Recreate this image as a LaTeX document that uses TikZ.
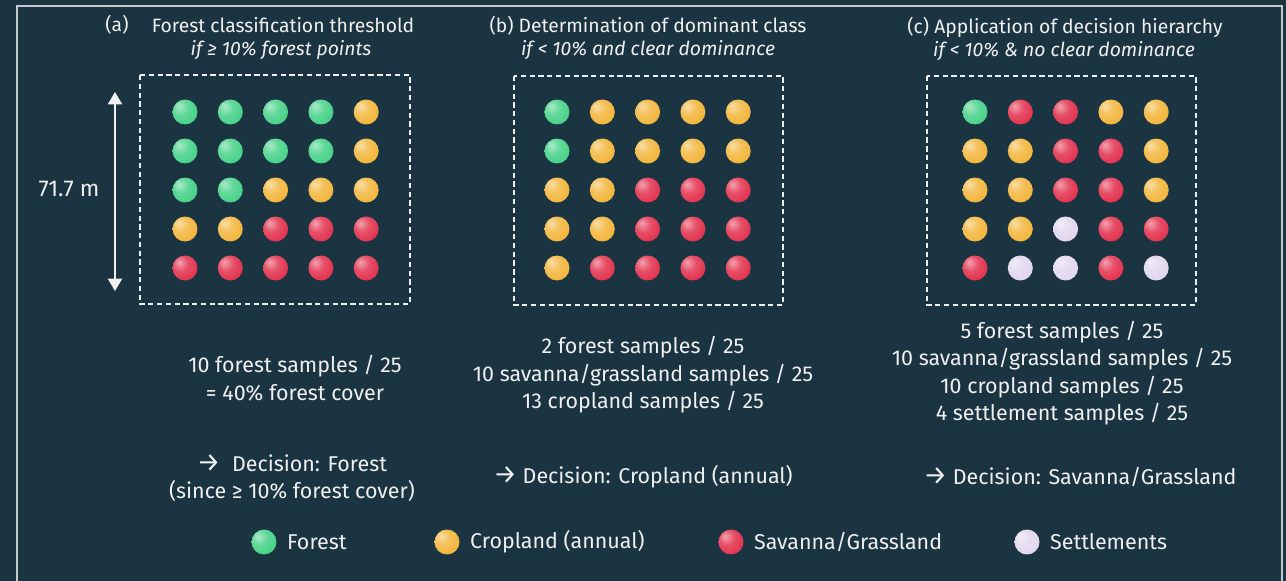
\documentclass[tikz,border=0pt]{standalone}
\usepackage{fontspec}
\setmainfont{Fira Sans}
\usetikzlibrary{arrows.meta,positioning,calc}
\definecolor{bgnavy}{HTML}{1B3442}
\definecolor{framegray}{HTML}{C4C8CC}
\definecolor{txtwhite}{HTML}{F0F0F0}
\definecolor{dotF}{HTML}{45D187}
\definecolor{dotC}{HTML}{F2B53A}
\definecolor{dotS}{HTML}{E2304C}
\definecolor{dotT}{HTML}{E2D6EE}
\colorlet{dotcol}{white}
\pgfdeclareradialshading[dotcol]{sphere}{\pgfqpoint{-12bp}{12bp}}{%
  color(0bp)=(dotcol!45!white); color(16bp)=(dotcol!85!white);
  color(34bp)=(dotcol); color(52bp)=(dotcol!85!black); color(70bp)=(dotcol!70!black)}
\newcommand{\dotgrid}[3]{%
  \foreach \c [count=\k from 0] in {#3} {
    \pgfmathtruncatemacro\col{mod(\k,5)}
    \pgfmathtruncatemacro\row{div(\k,5)}
    \node[dot=dot\c] (#1\k) at (#2+\col*45.3, 112+\row*39) {};
  }}
\newcommand{\darr}{{\fontsize{15}{15}\selectfont →}}

\begin{document}
\begin{tikzpicture}[x=0.02cm, y=-0.02cm,
    lbl/.style  = {text=txtwhite, font=\fontsize{12.2}{15.6}\selectfont,
                   align=center, inner sep=0pt},
    ttl/.style  = {text=txtwhite, font=\fontsize{11}{12}\selectfont, inner sep=0pt},
    sub/.style  = {ttl, font=\fontsize{11}{12}\selectfont\itshape},
    cell/.style = {draw=txtwhite, line width=1pt, dash pattern=on 3pt off 2pt},
    dot/.style  = {circle, inner sep=0pt, minimum size=0.5cm,
                   /utils/exec={\colorlet{dotcol}{#1}}, shade, shading=sphere},
    arr/.style  = {{Triangle[width=8pt,length=7pt]}-{Triangle[width=8pt,length=7pt]},
                   line width=1.2pt, draw=txtwhite},
]
\useasboundingbox (0,0) rectangle (1286,581);
\fill[bgnavy] (0,0) rectangle (1286,581);
\draw[framegray, line width=1.1pt] (17,581) -- (17,6) -- (1282,6) -- (1282,581);

\node[ttl] (taga) at (117,25) {(a)};
\node[ttl] (titla) at (283,25) {Forest classification threshold};
\node[sub] (suba) at (281,50) {if ≥ 10\% forest points};
\node[ttl] (titlb) at (648,26) {(b) Determination of dominant class};
\node[sub] (subb) at (648,50) {if < 10\% and clear dominance};
\node[ttl] (titlc) at (1065,27) {(c) Application of decision hierarchy};
\node[sub] (subc) at (1064,51) {if < 10\% \& no clear dominance};

\draw[cell] (140,75) rectangle (410,304);
\draw[cell] (514,76) rectangle (783,305);
\draw[cell] (927,76) rectangle (1196,305);

\dotgrid{a}{185}{F,F,F,F,C, F,F,F,F,C, F,F,C,C,C, C,C,S,S,S, S,S,S,S,S}
\dotgrid{b}{557}{F,C,C,C,C, F,C,C,C,C, C,C,S,S,S, C,C,S,S,S, C,S,S,S,S}
\dotgrid{c}{975}{F,S,S,C,C, C,C,S,S,C, C,C,S,S,C, C,C,T,S,S, S,T,T,S,T}

\coordinate (top) at (115,92);
\coordinate (bot) at (115,291);
\draw[arr] (top) -- (bot);
\node[lbl, font=\fontsize{13}{15.6}\selectfont] (size) at (69,189) {71.7 m};

\node[lbl] (cnta) at (295,378) {10 forest samples / 25\\= 40\% forest cover};
\node[lbl] (cntb) at (643,375) {2 forest samples / 25\\10 savanna/grassland samples / 25\\13 cropland samples / 25};
\node[lbl] (cntc) at (1062,373) {5 forest samples / 25\\10 savanna/grassland samples / 25\\10 cropland samples / 25\\4 settlement samples / 25};

\node[lbl] (deca) at (292,478) {\darr\ \ Decision: Forest\\(since ≥ 10\% forest cover)};
\node[lbl] (decb) at (643,477) {\darr\ Decision: Cropland (annual)};
\node[lbl] (decc) at (1080,477) {\darr\ Decision: Savanna/Grassland};

\node[dot=dotF] (legF) at (264,542) {};
\node[lbl, right=0.2cm of legF] {Forest};
\node[dot=dotC] (legC) at (447,542) {};
\node[lbl, right=0.2cm of legC] {Cropland (annual)};
\node[dot=dotS] (legS) at (731,542) {};
\node[lbl, right=0.2cm of legS] {Savanna/Grassland};
\node[dot=dotT] (legT) at (1027,542) {};
\node[lbl, right=0.2cm of legT] {Settlements};
\end{tikzpicture}
\end{document}
